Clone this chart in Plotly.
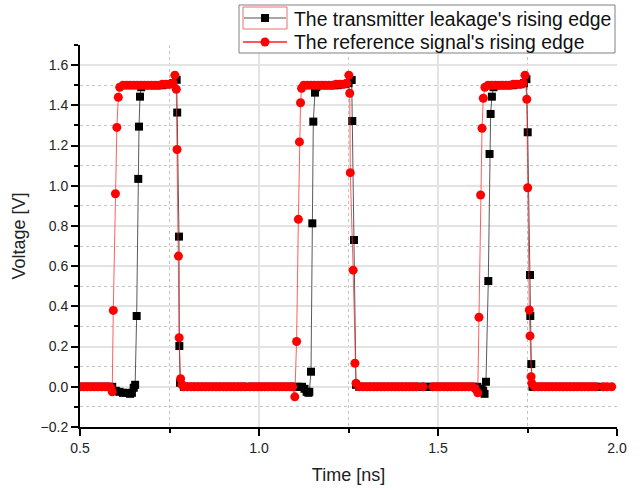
import plotly.graph_objects as go

# Transmitter leakage: time [ns] and voltage [V]
tx_time = [
    0.500, 0.510, 0.520, 0.530, 0.540, 0.550, 0.560, 0.570, 0.580, 0.590,
    0.600, 0.610, 0.620, 0.630, 0.640, 0.645, 0.650, 0.654,
    0.6583, 0.6628, 0.6648, 0.6676, 0.671,
    0.680, 0.690, 0.700, 0.710, 0.720, 0.730, 0.740, 0.750, 0.760,
    0.770, 0.7715, 0.7765, 0.7775, 0.7795,
    0.790, 0.800, 0.810, 0.820, 0.830, 0.840, 0.850, 0.860, 0.870, 0.880,
    0.890, 0.900, 0.910, 0.920, 0.930, 0.940, 0.950, 0.960, 0.970, 0.980,
    0.990, 1.000, 1.010, 1.020, 1.030, 1.040, 1.050, 1.060, 1.070, 1.080,
    1.090, 1.100, 1.110, 1.120, 1.127, 1.133, 1.138, 1.1405,
    1.1453, 1.1489, 1.1517, 1.1564, 1.160,
    1.170, 1.180, 1.190, 1.200, 1.210, 1.220, 1.230, 1.240, 1.250,
    1.2589, 1.2606, 1.2654, 1.2709,
    1.280, 1.290, 1.300, 1.310, 1.320, 1.330, 1.340, 1.350, 1.360, 1.370,
    1.380, 1.390, 1.400, 1.410, 1.420, 1.430, 1.440, 1.450, 1.460, 1.470,
    1.480, 1.490, 1.500, 1.510, 1.520, 1.530, 1.540, 1.550, 1.560, 1.570,
    1.580, 1.590, 1.600, 1.610, 1.620, 1.626, 1.630, 1.634,
    1.6405, 1.644, 1.647, 1.6505, 1.655,
    1.660, 1.670, 1.680, 1.690, 1.700, 1.710, 1.720, 1.730, 1.740,
    1.747, 1.7506, 1.757, 1.7578, 1.7606, 1.764,
    1.770, 1.780, 1.790, 1.800, 1.810, 1.820, 1.830, 1.840, 1.850, 1.860,
    1.870, 1.880, 1.890, 1.900, 1.910, 1.920, 1.930, 1.940, 1.950,
]
tx_volt = [
    0.000, 0.000, 0.000, 0.000, 0.000, 0.000, 0.000, 0.000, 0.000, 0.000,
    -0.020, -0.025, -0.030, -0.030, -0.035, -0.030, -0.005, 0.010,
    0.352, 1.034, 1.294, 1.443, 1.490,
    1.500, 1.500, 1.500, 1.500, 1.500, 1.500, 1.505, 1.505, 1.510,
    1.527, 1.364, 0.747, 0.203, 0.020,
    0.000, 0.000, 0.000, 0.000, 0.000, 0.000, 0.000, 0.000, 0.000, 0.000,
    0.000, 0.000, 0.000, 0.000, 0.000, 0.000, 0.000, 0.000, 0.000, 0.000,
    0.000, 0.000, 0.000, 0.000, 0.000, 0.000, 0.000, 0.000, 0.000, 0.000,
    0.000, 0.000, 0.000, 0.000, -0.010, -0.025, -0.030, -0.025,
    0.075, 0.813, 1.319, 1.463, 1.490,
    1.500, 1.500, 1.500, 1.500, 1.500, 1.500, 1.505, 1.505, 1.510,
    1.526, 1.322, 0.730, 0.010,
    0.000, 0.000, 0.000, 0.000, 0.000, 0.000, 0.000, 0.000, 0.000, 0.000,
    0.000, 0.000, 0.000, 0.000, 0.000, 0.000, 0.000, 0.000, 0.000, 0.000,
    0.000, 0.000, 0.000, 0.000, 0.000, 0.000, 0.000, 0.000, 0.000, 0.000,
    0.000, 0.000, 0.000, 0.000, -0.010, -0.020, -0.035, 0.025,
    0.526, 1.158, 1.357, 1.443, 1.490,
    1.500, 1.500, 1.500, 1.500, 1.500, 1.500, 1.505, 1.505, 1.510,
    1.530, 1.266, 0.556, 0.352, 0.113, 0.000,
    0.000, 0.000, 0.000, 0.000, 0.000, 0.000, 0.000, 0.000, 0.000, 0.000,
    0.000, 0.000, 0.000, 0.000, 0.000, 0.000, 0.000, 0.000, 0.000,
]

# Reference signal: time [ns] and voltage [V]
ref_time = [
    0.500, 0.510, 0.520, 0.530, 0.540, 0.550, 0.560, 0.570, 0.580, 0.586,
    0.590, 0.593, 0.599, 0.603, 0.607, 0.611,
    0.620, 0.630, 0.640, 0.650, 0.660, 0.670, 0.680, 0.690, 0.700, 0.710,
    0.720, 0.730, 0.740, 0.750, 0.760,
    0.765, 0.769, 0.771, 0.775, 0.777, 0.781, 0.785,
    0.790, 0.800, 0.810, 0.820, 0.830, 0.840, 0.850, 0.860, 0.870, 0.880,
    0.890, 0.900, 0.910, 0.920, 0.930, 0.940, 0.950, 0.960,
    0.976, 0.986, 0.996, 1.006, 1.016, 1.026, 1.036, 1.046, 1.056, 1.066,
    1.076, 1.086, 1.094,
    1.100, 1.105, 1.110, 1.113, 1.116, 1.119,
    1.125, 1.135, 1.145, 1.155, 1.165, 1.175, 1.185, 1.195, 1.205, 1.215,
    1.225, 1.235, 1.245,
    1.251, 1.2535, 1.255, 1.263, 1.268, 1.271,
    1.280, 1.290, 1.300, 1.310, 1.320, 1.330, 1.340, 1.350, 1.360, 1.370,
    1.380, 1.390, 1.400, 1.410, 1.420, 1.430, 1.440, 1.458,
    1.486, 1.496, 1.506, 1.516, 1.526, 1.536, 1.546, 1.556, 1.566, 1.576,
    1.586, 1.596, 1.604,
    1.611, 1.6145, 1.619, 1.623, 1.6265, 1.631,
    1.640, 1.650, 1.660, 1.670, 1.680, 1.690, 1.700, 1.710, 1.720, 1.730,
    1.738,
    1.743, 1.748, 1.7505, 1.755, 1.757, 1.760, 1.762,
    1.770, 1.780, 1.790, 1.800, 1.810, 1.820, 1.830, 1.840, 1.850, 1.860,
    1.870, 1.880, 1.890, 1.900, 1.910, 1.920, 1.930, 1.940,
    1.962, 1.972, 1.985,
]
ref_volt = [
    0.000, 0.000, 0.000, 0.000, 0.000, 0.000, 0.000, 0.000, 0.000, -0.005,
    -0.025, 0.380, 0.960, 1.290, 1.440, 1.490,
    1.500, 1.500, 1.500, 1.500, 1.500, 1.500, 1.500, 1.500, 1.500, 1.500,
    1.500, 1.505, 1.505, 1.505, 1.510,
    1.550, 1.480, 1.180, 0.650, 0.244, 0.040, 0.010,
    0.000, 0.000, 0.000, 0.000, 0.000, 0.000, 0.000, 0.000, 0.000, 0.000,
    0.000, 0.000, 0.000, 0.000, 0.000, 0.000, 0.000, 0.000,
    0.000, 0.000, 0.000, 0.000, 0.000, 0.000, 0.000, 0.000, 0.000, 0.000,
    0.000, 0.000, 0.000,
    -0.050, 0.225, 0.833, 1.218, 1.413, 1.485,
    1.500, 1.500, 1.500, 1.500, 1.500, 1.500, 1.500, 1.500, 1.500, 1.505,
    1.505, 1.505, 1.510,
    1.550, 1.460, 1.065, 0.580, 0.117, 0.017,
    0.000, 0.000, 0.000, 0.000, 0.000, 0.000, 0.000, 0.000, 0.000, 0.000,
    0.000, 0.000, 0.000, 0.000, 0.000, 0.000, 0.000, 0.000,
    0.000, 0.000, 0.000, 0.000, 0.000, 0.000, 0.000, 0.000, 0.000, 0.000,
    0.000, 0.000, -0.010,
    -0.030, 0.346, 0.954, 1.286, 1.435, 1.490,
    1.500, 1.500, 1.500, 1.500, 1.500, 1.500, 1.500, 1.505, 1.505, 1.505,
    1.510,
    1.550, 1.430, 0.990, 0.382, 0.253, 0.050, 0.017,
    0.000, 0.000, 0.000, 0.000, 0.000, 0.000, 0.000, 0.000, 0.000, 0.000,
    0.000, 0.000, 0.000, 0.000, 0.000, 0.000, 0.000, 0.000,
    0.000, 0.000, 0.000,
]

series_names = [
    "The transmitter leakage's rising edge",
    "The reference signal's rising edge",
]

x_ticks = [0.5, 1.0, 1.5, 2.0]
y_ticks = [-0.2, 0.0, 0.2, 0.4, 0.6, 0.8, 1.0, 1.2, 1.4, 1.6]

FONT = "Arial, Liberation Sans, sans-serif"
W, H = 644, 491
ML, MR, MT, MB = 80, 27, 45, 64
PW, PH = W - ML - MR, H - MT - MB


def px_x(px):
    """Horizontal pixel position -> paper coordinate."""
    return (px - ML) / PW


def px_y(py):
    """Vertical pixel position (from top) -> paper coordinate."""
    return (H - MB - py) / PH


fig = go.Figure()
fig.add_trace(go.Scatter(
    x=tx_time, y=tx_volt, mode="lines+markers", name=series_names[0],
    line=dict(color="rgba(60,60,60,0.85)", width=1),
    marker=dict(symbol="square", size=8, color="black"),
))
fig.add_trace(go.Scatter(
    x=ref_time, y=ref_volt, mode="lines+markers", name=series_names[1],
    line=dict(color="rgba(255,40,40,0.75)", width=1),
    marker=dict(symbol="circle", size=9, color="#ff0000"),
))

axis_common = dict(
    showline=True, linecolor="black", linewidth=2, mirror=False,
    ticks="outside", ticklen=7, tickwidth=2, tickcolor="black",
    showgrid=True, gridcolor="#e3e3e3", gridwidth=1.5, zeroline=False,
    tickfont=dict(family=FONT, size=14, color="#222"),
    tickformat=".1f", automargin=False,
)
minor_common = dict(ticks="outside", ticklen=4, tickwidth=1.5, tickcolor="black",
                    showgrid=True, gridcolor="#c4c4c4", griddash="dot", gridwidth=1)

fig.update_xaxes(
    range=[0.5, 2.0], tickvals=x_ticks,
    minor=dict(dtick=0.25, tick0=0.5, **minor_common),
    title=dict(text="Time [ns]", font=dict(family=FONT, size=18, color="#222"),
               standoff=14),
    **axis_common,
)
fig.update_yaxes(
    range=[-0.2, 1.7], tickvals=y_ticks,
    minor=dict(dtick=0.1, tick0=-0.2, **minor_common),
    title=dict(text="Voltage [V]", font=dict(family=FONT, size=18, color="#222"),
               standoff=10),
    **axis_common,
)

# Legend box drawn by hand: frame, line-and-marker samples and labels
shapes = [
    dict(type="rect", xref="paper", yref="paper", layer="above",
         x0=px_x(239), x1=px_x(615), y0=px_y(53), y1=px_y(5),
         line=dict(color="#808080", width=1), fillcolor="white"),
    # row 1 sample: grey line, black square, thin red frame
    dict(type="line", xref="paper", yref="paper", layer="above",
         x0=px_x(244), x1=px_x(286), y0=px_y(18), y1=px_y(18),
         line=dict(color="#8a8a8a", width=1.5)),
    dict(type="rect", xref="paper", yref="paper", layer="above",
         x0=px_x(261), x1=px_x(269), y0=px_y(22), y1=px_y(14),
         line=dict(width=0), fillcolor="black"),
    dict(type="rect", xref="paper", yref="paper", layer="above",
         x0=px_x(243), x1=px_x(287), y0=px_y(29), y1=px_y(7),
         line=dict(color="#f07070", width=1)),
    # row 2 sample: red line, red circle
    dict(type="line", xref="paper", yref="paper", layer="above",
         x0=px_x(243), x1=px_x(287), y0=px_y(42), y1=px_y(42),
         line=dict(color="#ff2020", width=1.5)),
    dict(type="circle", xref="paper", yref="paper", layer="above",
         x0=px_x(260.5), x1=px_x(269.5), y0=px_y(46.5), y1=px_y(37.5),
         line=dict(width=0), fillcolor="#ff0000"),
]
annotations = [
    dict(text=series_names[0], xref="paper", yref="paper",
         x=px_x(292), y=px_y(19), xanchor="left", yanchor="middle",
         showarrow=False, font=dict(family=FONT, size=19.4, color="#111")),
    dict(text=series_names[1], xref="paper", yref="paper",
         x=px_x(292), y=px_y(42), xanchor="left", yanchor="middle",
         showarrow=False, font=dict(family=FONT, size=19.4, color="#111")),
]

fig.update_layout(
    width=W, height=H,
    margin=dict(l=ML, r=MR, t=MT, b=MB, autoexpand=False),
    paper_bgcolor="white", plot_bgcolor="white",
    font=dict(family=FONT, color="#222"),
    showlegend=False,
    shapes=shapes,
    annotations=annotations,
)

fig.write_html("out.html")
